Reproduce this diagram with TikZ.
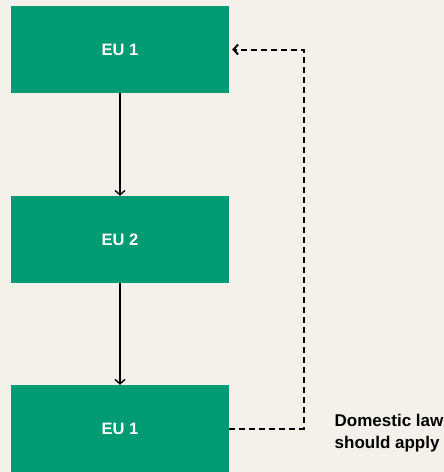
\documentclass[tikz,border=0pt]{standalone}
\usepackage{fontspec}
\setmainfont{Liberation Sans}
\usetikzlibrary{arrows.meta}
\definecolor{paper}{HTML}{F4F1EA}
\definecolor{eugreen}{HTML}{009B73}
\tikzset{
  eubox/.style={rectangle, fill=eugreen, draw=none, minimum width=218pt,
    minimum height=87pt, inner sep=0pt, text=white,
    font=\fontsize{16.5}{20}\selectfont\bfseries},
  flow/.style={draw=black, line width=1.4pt, -{Straight Barb[length=4.5pt,width=10pt]}},
  backflow/.style={draw=black, line width=2pt, dash pattern=on 6pt off 4pt,
    -{Straight Barb[length=4.5pt,width=10pt]}},
  note/.style={align=left, inner sep=0pt, text=black,
    font=\fontsize{17}{22}\selectfont\bfseries}
}
\begin{document}
\begin{tikzpicture}[x=1pt,y=-1pt]
  % canvas
  \fill[paper] (0,0) rectangle (444,472);
  \useasboundingbox (0,0) rectangle (444,472);

  % the three stages
  \node[eubox] (first)  at (120,49.5)  {EU 1};
  \node[eubox] (second) at (120,239.5) {EU 2};
  \node[eubox] (third)  at (120,428.5) {EU 1};

  % forward steps
  \draw[flow] (first.south) -- (second.north);
  \draw[flow] (second.south) -- (third.north);

  % loop back to the start
  \coordinate (turnlow)  at (303.5,428.5);
  \coordinate (turnhigh) at (303.5,49.5);
  \draw[backflow, shorten >=3pt] (third.east) -- (turnlow) -- (turnhigh) -- (first.east);

  % side note
  \node[note, anchor=west] (law) at (334.5,433) {Domestic law\\should apply};
\end{tikzpicture}
\end{document}
